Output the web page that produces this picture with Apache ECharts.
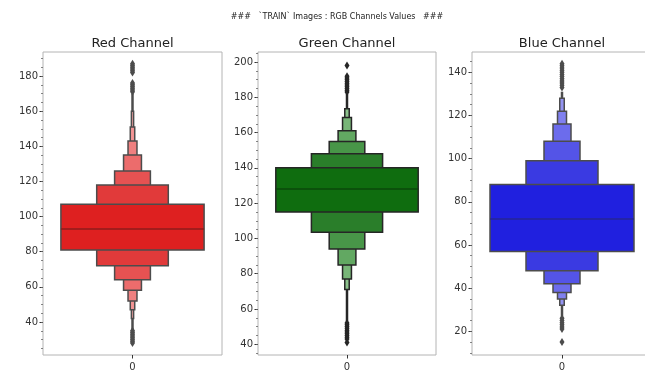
<!DOCTYPE html>
<html><head><meta charset="utf-8">
<script src="https://cdn.jsdelivr.net/npm/echarts@6/dist/echarts.min.js"></script>
<style>html,body{margin:0;padding:0;background:#fff}#c{width:645px;height:372px}</style>
</head><body><div id="c"></div>
<script>
const categories = ['0'];
const mainTitle = '###   `TRAIN` Images : RGB Channels Values   ###';
const panelTitles = ['Red Channel', 'Green Channel', 'Blue Channel'];

// letter-value boxes, innermost first: [lower, upper]
const redLevels = [[81,107],[72,118],[64,126],[58,135],[52,143],[47,151],[42,160]];
const redMedian = 93;
const redTail = [36,170];
const redOutliers = [35,34,33,32,31,30,29,28, 171,172,173,174,175,176, 182,183,184,185,186,187];

const greenLevels = [[115,140],[103.5,148],[94,155],[85,161],[77,168.5],[71,173.5]];
const greenMedian = 128;
const greenTail = [53,182];
const greenOutliers = [52,51,50,49,48,47,46,45,44,43,41, 183,184,185,186,187,188,189,190,191,192,198];

const blueLevels = [[57,88],[48,99],[42,108],[38,116],[35,122],[32,128]];
const blueMedian = 72;
const blueTail = [27,131];
const blueOutliers = [26,25,24,23,22,21,15, 133,134,135,136,137,138,139,140,141,142,143,144];

const redRange = [21.2,193.7], greenRange = [33.9,205.7], blueRange = [9.0,149.4];
const redTicks = [40,60,80,100,120,140,160,180];
const greenTicks = [40,60,80,100,120,140,160,180,200];
const blueTicks = [20,40,60,80,100,120,140];

const panels = [
  {levels: redLevels, median: redMedian, tail: redTail, outliers: redOutliers, range: redRange, ticks: redTicks,
   faces: ['#de2020','#e13a3a','#e65252','#ec6c6c','#ef8080','#f29494','#f4a4a4'], edge:'#4c4c4c', med:'#8e1b1b',
   grid:{left:43, top:52, width:179, height:303}, cx:132.5},
  {levels: greenLevels, median: greenMedian, tail: greenTail, outliers: greenOutliers, range: greenRange, ticks: greenTicks,
   faces: ['#0f6d0f','#2a7e2a','#489648','#62a862','#78b678','#8cc28c'], edge:'#262626', med:'#0b480b',
   grid:{left:258, top:52, width:178, height:303}, cx:347},
  {levels: blueLevels, median: blueMedian, tail: blueTail, outliers: blueOutliers, range: blueRange, ticks: blueTicks,
   faces: ['#2020df','#3a3ae2','#5454e7','#6c6cec','#8080ef','#9494f2'], edge:'#4c4c4c', med:'#262694',
   grid:{left:472, top:52, width:180, height:303}, cx:562}
];

function minorOf(range, step){
  const out=[]; for(let v=Math.ceil(range[0]/step)*step; v<=range[1]; v+=step) out.push(v); return out;
}

const FONT = 'DejaVu Sans';
const graphics = [{type:'text', x:337, y:17, style:{text: mainTitle, fill:'#222', font:'8px "DejaVu Sans"', textAlign:'center', textVerticalAlign:'middle'}}];
const option = {animation:false, backgroundColor:'#fff', grid:[], xAxis:[], yAxis:[], series:[]};

panels.forEach((p, i) => {
  graphics.push({type:'text', x:p.cx, y:44, style:{text: panelTitles[i], fill:'#222', font:'13px "DejaVu Sans"', textAlign:'center', textVerticalAlign:'middle'}});
  option.grid.push(Object.assign({show:true, borderColor:'#b4b4b4', borderWidth:1, backgroundColor:'#fff',
    containLabel:false, outerBoundsMode:'none'}, p.grid));
  option.xAxis.push({type:'category', gridIndex:i, data:categories, boundaryGap:true,
    axisLine:{show:false}, axisTick:{show:true, alignWithLabel:true, length:3.5, lineStyle:{color:'#333'}},
    axisLabel:{fontSize:10, color:'#333', margin:7, fontFamily:FONT}, splitLine:{show:false}});
  option.yAxis.push({type:'value', gridIndex:i, position:'left', min:p.range[0], max:p.range[1],
    axisLine:{show:false}, splitLine:{show:false},
    axisTick:{show:true, length:3.5, customValues:p.ticks, lineStyle:{color:'#333'}},
    axisLabel:{fontSize:10, color:'#333', margin:5, fontFamily:FONT, customValues:p.ticks}});
  option.yAxis.push({type:'value', gridIndex:i, position:'left', offset:0, min:p.range[0], max:p.range[1],
    axisLine:{show:false}, splitLine:{show:false},
    axisTick:{show:true, length:2, customValues:minorOf(p.range,5), lineStyle:{color:'#666', width:0.8}},
    axisLabel:{show:false}});
  const data = [[0, p.tail[0], p.tail[1], -1]];
  for (let k = p.levels.length-1; k >= 0; k--) data.push([0, p.levels[k][0], p.levels[k][1], k]);
  data.push([0, p.median, p.median, -2]);
  option.series.push({type:'custom', xAxisIndex:i, yAxisIndex:2*i, data:data, encode:{x:0, y:[1,2]},
    renderItem:function(params, api){
      const lo=api.value(1), hi=api.value(2), k=api.value(3);
      const a=api.coord([0,lo]), b=api.coord([0,hi]);
      const band=api.size([1,0])[0];
      if (k === -1) return {type:'line', shape:{x1:a[0],y1:a[1],x2:b[0],y2:b[1]}, style:{stroke:p.edge, lineWidth:2.5}};
      if (k === -2) { const w=band*0.8; return {type:'line', shape:{x1:a[0]-w/2,y1:a[1],x2:a[0]+w/2,y2:a[1]}, style:{stroke:p.med, lineWidth:1.5}}; }
      const w = band*0.8/Math.pow(2,k);
      return {type:'rect', shape:{x:a[0]-w/2, y:b[1], width:w, height:a[1]-b[1]}, style:{fill:p.faces[k], stroke:p.edge, lineWidth:1.5}};
    }});
  option.series.push({type:'scatter', xAxisIndex:i, yAxisIndex:2*i, symbol:'diamond', symbolSize:[5,8],
    itemStyle:{color:p.edge, opacity:1}, data:p.outliers.map(v=>[0,v]), z:3});
});
option.graphic = graphics;

const chart = echarts.init(document.getElementById('c'), null, {renderer:'canvas'});
chart.setOption(option);
</script></body></html>
